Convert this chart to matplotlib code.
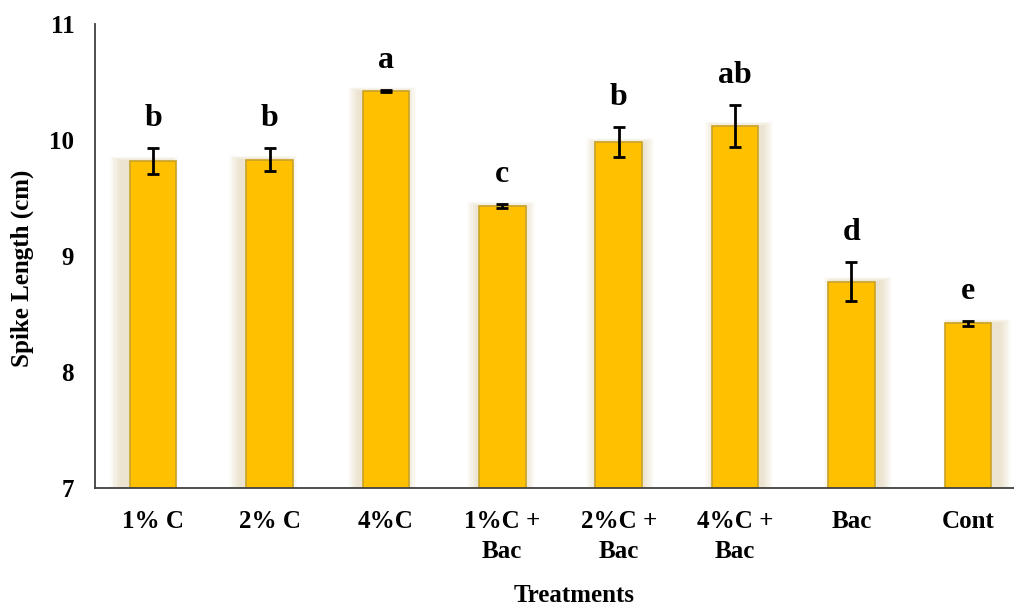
import matplotlib
matplotlib.use("Agg")
import matplotlib.pyplot as plt
from matplotlib.patches import Rectangle
import numpy as np

categories = ["1% C", "2% C", "4%C", "1%C +\nBac", "2%C +\nBac", "4%C +\nBac", "Bac", "Cont"]
means = [9.82, 9.83, 10.42, 9.43, 9.98, 10.12, 8.78, 8.42]
errors = [0.11, 0.10, 0.01, 0.015, 0.13, 0.18, 0.17, 0.02]
letters = ["b", "b", "a", "c", "b", "ab", "d", "e"]
yticks = [7, 8, 9, 10, 11]

plt.rcParams['font.family'] = ['Liberation Serif', 'DejaVu Serif']
plt.rcParams['font.weight'] = 'bold'

W, H = 1014, 609
fig = plt.figure(figsize=(W / 100, H / 100), dpi=100)
left, right, top, bottom = 95, 1026, 24, 488
ax = fig.add_axes([left / W, (H - bottom) / H, (right - left) / W, (bottom - top) / H])

x = np.arange(len(categories))
bw = 0.40

# soft shadow / glow behind bars
for i, (xi, v) in enumerate(zip(x, means)):
    dx = (xi - 3.5) * 0.022
    n = 8
    for j in range(n):
        e = 0.09 * (j + 1) / n
        ax.add_patch(Rectangle((xi - bw / 2 - e + dx, 7), bw + 2 * e, v - 7 + e * 0.4,
                               facecolor='#d2bd85', edgecolor='none', alpha=0.055, zorder=1))

ax.bar(x, means, width=bw, bottom=0, color='#FFC000', edgecolor='#C9A227', linewidth=1.2, zorder=2)
ax.errorbar(x, means, yerr=errors, fmt='none', ecolor='black', elinewidth=2,
            capsize=4, capthick=2, zorder=3)

for xi, v, e, t in zip(x, means, errors, letters):
    ax.annotate(t, (xi, v + e), xytext=(0, 16), textcoords='offset points',
                ha='center', va='baseline', fontsize=23, fontweight='bold')

ax.set_xlim(-0.5, len(categories) - 0.5)
ax.set_ylim(7, 11)
ax.set_yticks(yticks)
ax.set_yticklabels([str(t) for t in yticks], fontsize=18, fontweight='bold')
ax.set_xticks(x)
ax.set_xticklabels(categories, fontsize=18, fontweight='bold', linespacing=1.35)
ax.tick_params(axis='y', length=0, pad=15)
ax.tick_params(axis='x', length=0, pad=16)

for s in ['top', 'right']:
    ax.spines[s].set_visible(False)
for s in ['left', 'bottom']:
    ax.spines[s].set_color('#404040')
    ax.spines[s].set_linewidth(1.3)

fig.text(574 / W, 1 - 596 / H, "Treatments", ha='center', va='center', fontsize=18, fontweight='bold')
fig.text(22 / W, 1 - 268 / H, "Spike Length (cm)", ha='center', va='center', rotation=90,
         fontsize=18, fontweight='bold')

fig.savefig("out.png", dpi=100)
